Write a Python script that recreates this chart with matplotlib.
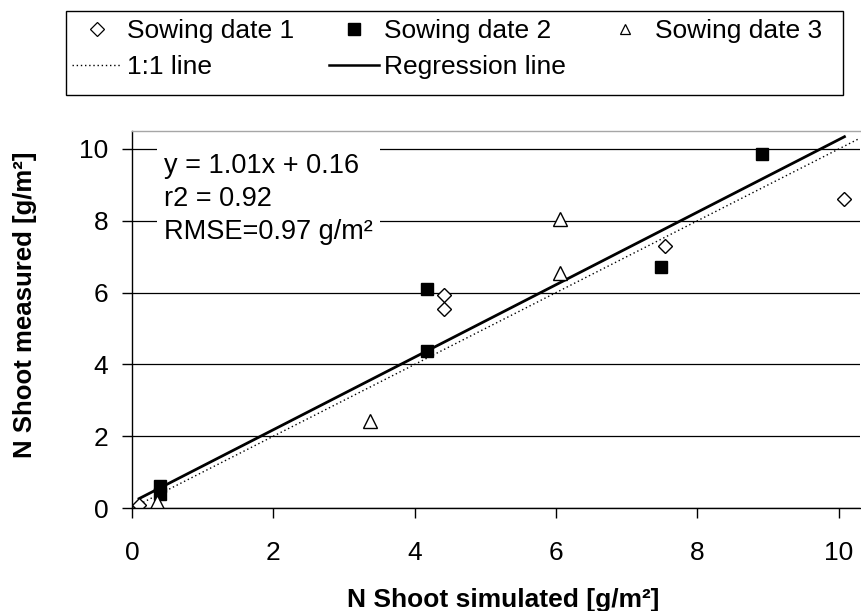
import matplotlib.pyplot as plt
from matplotlib.lines import Line2D
from matplotlib.patches import Rectangle

plt.rcParams['font.family'] = ['Liberation Sans', 'DejaVu Sans']

# Simulated vs. measured N shoot values per sowing date
sd1_sim = [0.10, 4.41, 4.41, 7.54, 10.08]
sd1_meas = [0.08, 5.93, 5.53, 7.29, 8.61]

sd2_sim = [0.39, 0.39, 4.18, 4.18, 7.49, 8.92]
sd2_meas = [0.60, 0.38, 6.11, 4.37, 6.70, 9.86]

sd3_sim = [0.36, 3.37, 6.06, 6.06]
sd3_meas = [0.16, 2.43, 8.06, 6.55]

reg_slope = 1.01
reg_intercept = 0.16
r2 = 0.92
rmse = 0.97

one_to_one = [0, 10.3]

W, H = 862, 611
fig = plt.figure(figsize=(W / 100, H / 100), dpi=100)
ax = fig.add_axes([132 / W, 1 - 508 / H, 728 / W, 377 / H])

# horizontal gridlines
ax.set_axisbelow(True)
ax.yaxis.grid(True, color='black', linewidth=0.9)

ax.plot(one_to_one, one_to_one, color='black', linestyle=(0, (1, 2)), linewidth=1.0)
all_x = sd1_sim + sd2_sim + sd3_sim
xr = [min(all_x), max(all_x)]
ax.plot(xr, [reg_slope * v + reg_intercept for v in xr], color='black', linewidth=2.0)

ax.plot(sd1_sim, sd1_meas, linestyle='none', marker='D', markersize=7.5,
        markerfacecolor='white', markeredgecolor='black', markeredgewidth=1.0)
ax.plot(sd2_sim, sd2_meas, linestyle='none', marker='s', markersize=9,
        markerfacecolor='black', markeredgecolor='black')
ax.plot(sd3_sim, sd3_meas, linestyle='none', marker='^', markersize=10,
        markerfacecolor='white', markeredgecolor='black', markeredgewidth=1.0)

ax.set_xlim(0, 10.3)
ax.set_ylim(0, 10.5)
ax.set_xticks([0, 2, 4, 6, 8, 10])
ax.set_yticks([0, 2, 4, 6, 8, 10])
ax.tick_params(axis='both', labelsize=19, direction='out', length=7, width=1, color='black')
ax.tick_params(axis='x', pad=17)
ax.tick_params(axis='y', pad=10)

ax.spines['right'].set_visible(False)
ax.spines['top'].set_color('#a6a6a6')
ax.spines['top'].set_linewidth(1.0)
for s in ['left', 'bottom']:
    ax.spines[s].set_color('black')
    ax.spines[s].set_linewidth(1.0)

ax.set_xlabel('N Shoot simulated [g/m²]', fontsize=19, fontweight='bold')
ax.set_ylabel('N Shoot measured [g/m²]', fontsize=18.5, fontweight='bold')
ax.xaxis.set_label_coords(0.51, -0.212)
ax.yaxis.set_label_coords(-0.131, 0.54)

stats = f'y = {reg_slope:.2f}x + {reg_intercept:.2f}\nr2 = {r2:.2f}\nRMSE={rmse:.2f} g/m²'
ax.text(0.45, 9.90, stats, fontsize=19.5, va='top', ha='left', linespacing=1.35,
        bbox=dict(facecolor='white', edgecolor='none', pad=5))

handles = [
    Line2D([], [], linestyle='none', marker='D', markersize=7, markerfacecolor='white',
           markeredgecolor='black', markeredgewidth=0.9),
    Line2D([], [], color='black', linestyle=(0, (1, 2)), linewidth=1.0),
    Line2D([], [], linestyle='none', marker='s', markersize=8.5, color='black'),
    Line2D([], [], color='black', linewidth=1.8),
    Line2D([], [], linestyle='none', marker='^', markersize=7.5, markerfacecolor='white',
           markeredgecolor='black', markeredgewidth=0.9),
]
labels = ['Sowing date 1', '1:1 line', 'Sowing date 2', 'Regression line', 'Sowing date 3']
fig.legend(handles, labels, ncol=3, loc='upper left',
           bbox_to_anchor=(72 / W, 1 - 19 / H), fontsize=19, frameon=False,
           handlelength=1.9, handletextpad=0.19, borderaxespad=0, borderpad=0,
           labelspacing=0.47, columnspacing=1.3)

# legend box
fig.patches.append(Rectangle((66 / W, 1 - 95 / H), 777 / W, 84 / H, transform=fig.transFigure,
                             facecolor='none', edgecolor='black', linewidth=1.0))

fig.savefig('out.png', dpi=100)
